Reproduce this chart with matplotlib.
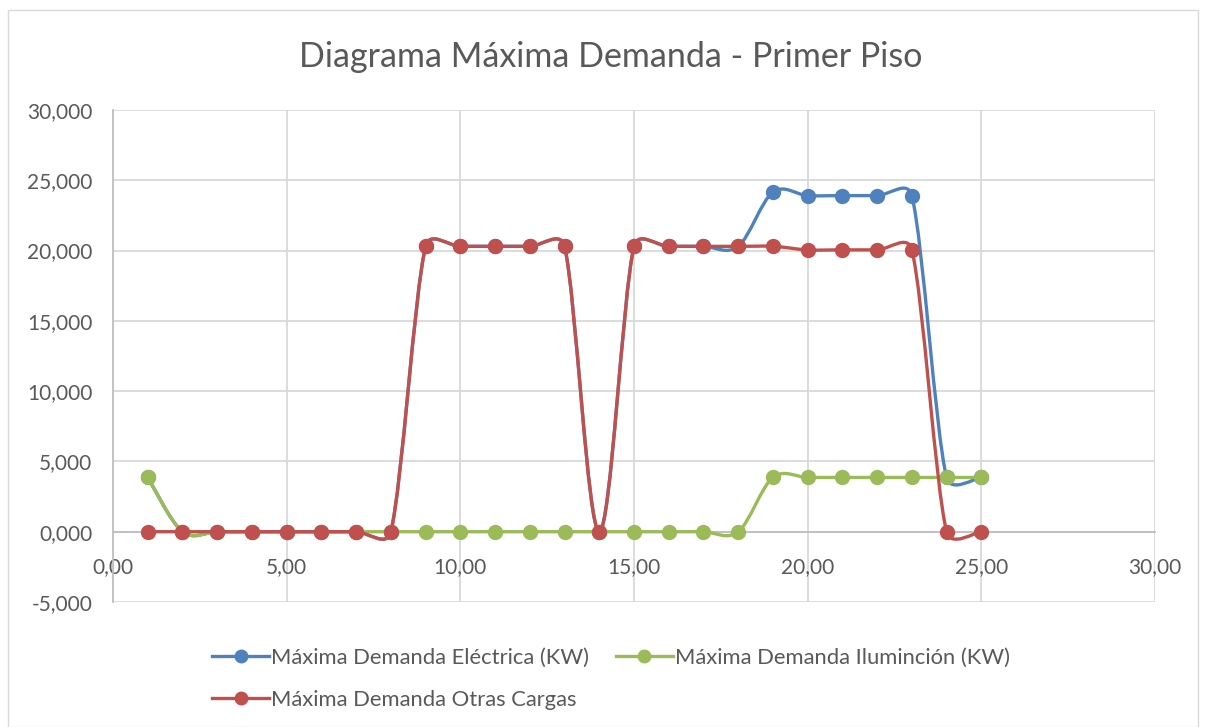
import matplotlib
matplotlib.use("Agg")
import matplotlib.pyplot as plt
from matplotlib.path import Path
from matplotlib.patches import PathPatch, Rectangle
from matplotlib.lines import Line2D
from matplotlib.ticker import FuncFormatter, MultipleLocator
import numpy as np

plt.rcParams['font.family'] = ['Lato', 'DejaVu Sans']

x = list(range(1, 26))
electrica = [3.86, 0, 0, 0, 0, 0, 0, 0, 20.3, 20.3, 20.3, 20.3, 20.3, 0,
             20.3, 20.3, 20.3, 20.3, 24.16, 23.91, 23.91, 23.91, 23.91, 3.86, 3.86]
iluminacion = [3.86, 0, 0, 0, 0, 0, 0, 0, 0, 0, 0, 0, 0, 0,
               0, 0, 0, 0, 3.86, 3.86, 3.86, 3.86, 3.86, 3.86, 3.86]
otras = [0, 0, 0, 0, 0, 0, 0, 0, 20.3, 20.3, 20.3, 20.3, 20.3, 0,
         20.3, 20.3, 20.3, 20.3, 20.3, 20.05, 20.05, 20.05, 20.05, 0, 0]

names = ["Máxima Demanda Eléctrica (KW)", "Máxima Demanda Ilumincíón (KW)".replace("í", "i", 1),
         "Máxima Demanda Otras Cargas"]
colors = ["#4F81BD", "#9BBB59", "#C0504D"]
title = "Diagrama Máxima Demanda - Primer Piso"


def smooth_path(ax, xs, ys):
    # Excel-style smoothing: Bezier tangents in screen space, limited in length
    pts = ax.transData.transform(np.column_stack([xs, ys]).astype(float))
    n = len(pts)
    verts = [pts[0]]
    codes = [Path.MOVETO]
    for i in range(n - 1):
        p0 = pts[i - 1] if i > 0 else pts[i]
        p1 = pts[i]
        p2 = pts[i + 1]
        p3 = pts[i + 2] if i + 2 < n else pts[i + 1]
        d12 = np.hypot(*(p2 - p1))
        t1 = p2 - p0
        t2 = p3 - p1
        n1 = np.hypot(*t1)
        n2 = np.hypot(*t2)
        f1 = min(1 / 6, d12 / (2 * n1)) if n1 > 0 else 0
        f2 = min(1 / 6, d12 / (2 * n2)) if n2 > 0 else 0
        c1 = p1 + t1 * f1
        c2 = p2 - t2 * f2
        verts += [c1, c2, p2]
        codes += [Path.CURVE4] * 3
    verts = ax.transData.inverted().transform(np.array(verts))
    return Path(verts, codes)


fig = plt.figure(figsize=(12.06, 7.27), dpi=100)
ax = fig.add_axes([113 / 1206, 1 - 602 / 727, 1042 / 1206, 492 / 727])

grid_c = "#D9D9D9"
ax.set_xlim(0, 30)
ax.set_ylim(-5, 30)
ax.xaxis.set_major_locator(MultipleLocator(5))
ax.yaxis.set_major_locator(MultipleLocator(5))
ax.grid(True, color=grid_c, lw=1.3)
ax.set_axisbelow(True)
for s in ax.spines.values():
    s.set_visible(False)
for side in ['left', 'bottom']:
    ax.spines[side].set_visible(True)
    ax.spines[side].set_color("#BFBFBF")
    ax.spines[side].set_linewidth(1.3)
    ax.spines[side].set_position(('data', 0))
ax.tick_params(length=0, labelsize=15, labelcolor="#595959")
ax.tick_params(axis='x', pad=18)
ax.tick_params(axis='y', pad=15)
ax.xaxis.set_major_formatter(FuncFormatter(lambda v, p: f"{v:.2f}".replace(".", ",")))
ax.yaxis.set_major_formatter(FuncFormatter(
    lambda v, p: (f"{v:.3f}" if v >= 0 else f"-{abs(v):.3f}").replace(".", ",")))

handles = []
for ys, c, z in zip([electrica, iluminacion, otras], colors, [3, 4, 5]):
    patch = PathPatch(smooth_path(ax, x, ys), fill=False, edgecolor=c, lw=2.4,
                      zorder=z, capstyle='round', joinstyle='round')
    ax.add_patch(patch)
    ax.plot(x, ys, ls='none', marker='o', ms=10, color=c, zorder=z)
    handles.append(Line2D([], [], color=c, lw=2.4, marker='o', ms=9))

fig.text(611 / 1206, 1 - 57 / 727, title, ha='center', va='center', fontsize=24.5, color="#595959")

order = [0, 2, 1]
fig.legend([handles[i] for i in order], [names[i] for i in order], ncol=2,
           loc='upper left', bbox_to_anchor=(201 / 1206, 1 - 637 / 727),
           frameon=False, fontsize=15.8, labelcolor="#595959", handlelength=2.6,
           handletextpad=0.1, columnspacing=1.2, labelspacing=1.0, borderpad=0)

fig.patches.append(Rectangle((8 / 1206, 0), 1190 / 1206, 1 - 10 / 727,
                             transform=fig.transFigure, fill=False,
                             edgecolor="#D9D9D9", lw=1))

fig.savefig("out.png", dpi=100)
